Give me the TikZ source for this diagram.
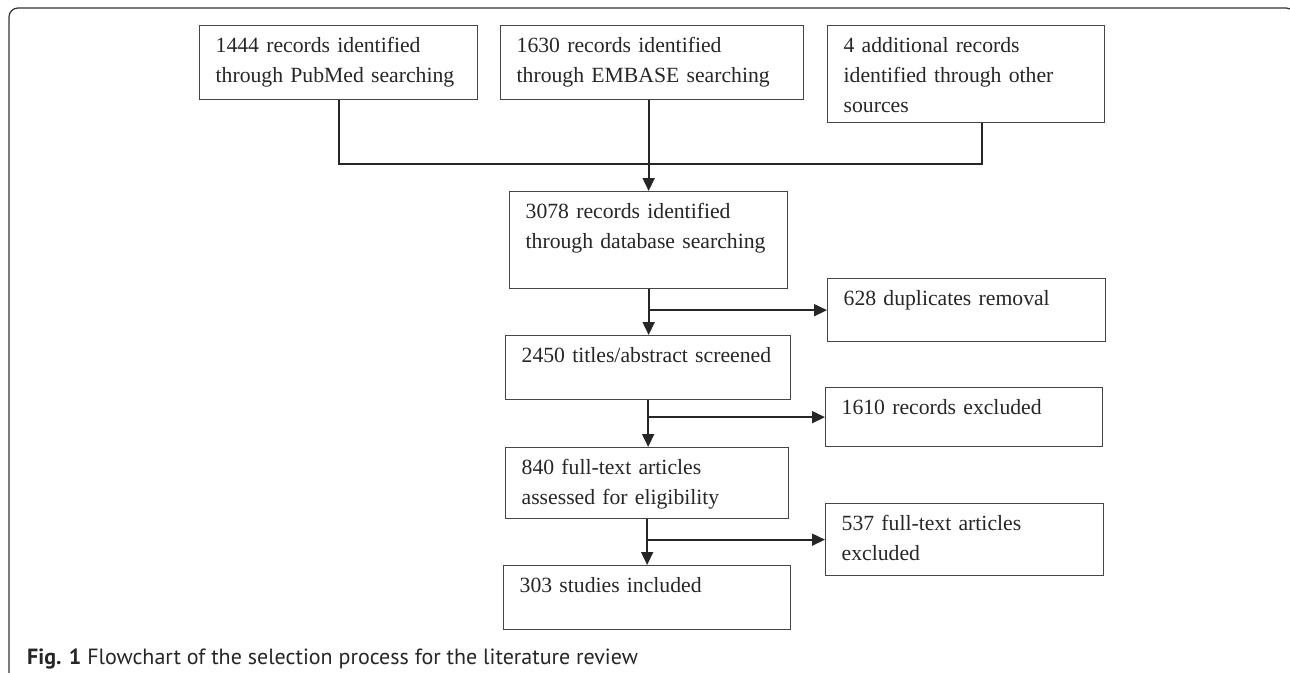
\documentclass[tikz,border=0pt]{standalone}
\usepackage{fontspec}
\setmainfont{Liberation Serif}
\newfontfamily\capfont{PT Sans}
\usepackage{tikz}
\usetikzlibrary{arrows.meta,positioning,calc}
\definecolor{framegray}{gray}{0.2}
\definecolor{boxgray}{gray}{0.27}
\tikzstyle{box} = [draw=boxgray, line width=1.3pt, anchor=north west, align=left, inner xsep=16pt, inner ysep=0pt, text height=27pt, font=\fontsize{21.7}{30}\selectfont, text=black!85]
\tikzstyle{line} = [draw=black!85, line width=1.7pt]
\tikzset{>={Triangle[length=13pt,width=12pt]}}

\begin{document}
\begin{tikzpicture}[x=1pt,y=-1pt]
    \useasboundingbox (0,0) rectangle (1290,672);
    \clip (0,0) rectangle (1290,672);
    \draw [framegray, line width=1.2pt, rounded corners=9pt] (9,8) rectangle (1295,682);
    % sources
    \node [box, text width=246pt, text depth=47pt] (pubmed) at (199,25) {1444 records identified\\through PubMed searching};
    \node [box, text width=271pt, text depth=47pt] (embase) at (500,25) {1630 records identified\\through EMBASE searching};
    \node [box, text width=245pt, text depth=70pt] (other) at (827,25) {4 additional records\\identified through other\\sources};
    % main column
    \node [box, text width=246pt, text depth=70pt] (found) at (509,191) {3078 records identified\\through database searching};
    \node [box, text width=253pt, text depth=37pt] (screen) at (505,335) {2450 titles/abstract screened};
    \node [box, text width=251pt, text depth=44pt] (full) at (505,447) {840 full-text articles\\assessed for eligibility};
    \node [box, text width=255pt, text depth=37pt] (incl) at (503,565) {303 studies included};
    % excluded
    \node [box, text width=246pt, text depth=36pt] (dupl) at (827,278) {628 duplicates removal};
    \node [box, text width=245pt, text depth=32pt] (excl) at (825,387) {1610 records excluded};
    \node [box, text width=246pt, text depth=45pt] (fexcl) at (825,503) {537 full-text articles\\excluded};
    \node [anchor=base west, inner sep=0pt, font=\capfont\fontsize{22}{26}\selectfont, text=black!85] (cap) at (27,664) {\textbf{Fig. 1} Flowchart of the selection process for the literature review};

    \coordinate (join) at (found.north |- 0,164);
    \path [line] (pubmed.south) |- (join);
    \path [line] ([xshift=16pt]other.south) |- (join);
    \path [line,->] (embase.south -| found.north) -- (found.north);
    \path [line,->] (found.south) -- (found.south |- screen.north);
    \path [line,->] (found.south |- dupl.west) -- (dupl.west);
    \path [line,->] (screen.south) -- (screen.south |- full.north);
    \path [line,->] (screen.south |- excl.west) -- (excl.west);
    \path [line,->] (full.south) -- (full.south |- incl.north);
    \path [line,->] (full.south |- fexcl.west) -- (fexcl.west);
  \end{tikzpicture}
\end{document}
